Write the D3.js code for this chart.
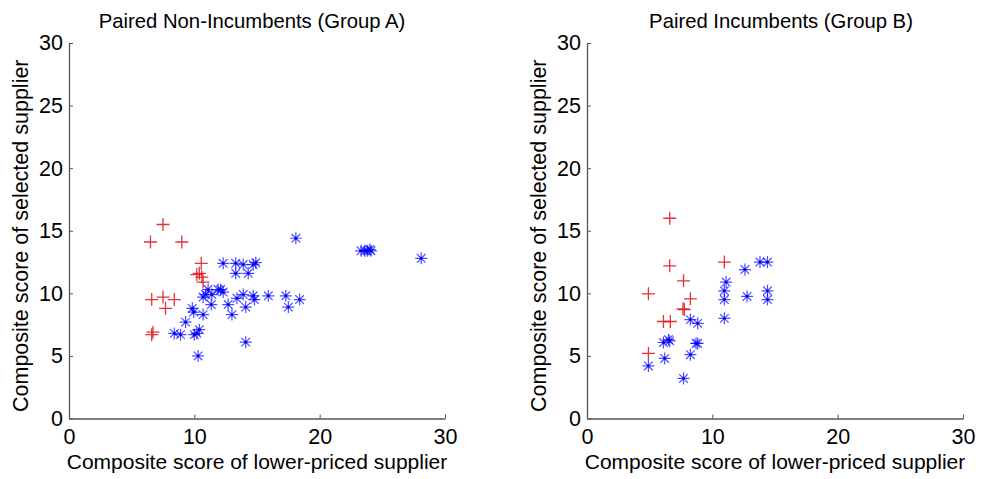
<!DOCTYPE html>
<html>
<head>
<meta charset="utf-8">
<script src="https://cdn.jsdelivr.net/npm/d3@7"></script>
<style>
  body { margin: 0; background: #fff; }
  text { font-family: "Liberation Sans", Arial, sans-serif; fill: #000; }
</style>
</head>
<body>
<div id="chart"></div>
<script>
// group A (non-incumbents): red = crosses, blue = stars
var redA_x = [6.5, 7.5, 9.0, 10.55, 10.2, 10.4, 10.6, 10.7, 6.6, 7.5, 8.4, 7.7, 6.6, 6.7];
var redA_y = [14.1, 15.5, 14.1, 12.4, 11.5, 11.6, 11.3, 10.9, 9.5, 9.7, 9.5, 8.8, 6.7, 6.9];
var blueA_x = [12.3, 13.3, 13.9, 14.7, 14.9, 13.3, 14.3, 10.7, 11.1, 11.9, 12.1, 12.3, 11.35, 12.7, 13.0,
               13.4, 13.9, 14.1, 14.7, 14.8, 9.84, 9.95, 10.7, 9.3, 8.4, 8.9, 10.0, 10.2, 10.4, 10.3,
               14.1, 15.9, 17.3, 17.5, 18.4, 18.1, 23.3, 23.6, 23.8, 24.0, 24.1, 28.1, 10.9, 11.4];
var blueA_y = [12.4, 12.4, 12.3, 12.3, 12.45, 11.6, 11.6, 9.7, 10.3, 10.3, 10.3, 10.1, 9.1, 9.1, 8.3,
               9.6, 9.9, 8.9, 9.8, 9.5, 8.8, 8.5, 8.3, 7.7, 6.8, 6.7, 6.7, 6.8, 7.1, 5.0,
               6.1, 9.8, 9.8, 8.9, 9.5, 14.4, 13.4, 13.4, 13.4, 13.5, 13.4, 12.8, 9.9, 9.9];

// group B (incumbents)
var redB_x = [6.6, 6.6, 10.96, 7.7, 4.9, 8.25, 7.66, 7.77, 6.1, 6.65, 4.9];
var redB_y = [16.0, 12.2, 12.5, 11.0, 9.96, 9.56, 8.76, 8.7, 7.75, 7.75, 5.2];
var blueB_x = [13.8, 14.4, 12.6, 11.1, 10.96, 10.96, 12.77, 14.4, 14.4, 10.96, 8.25, 8.83,
               6.1, 6.6, 6.5, 8.83, 8.7, 6.2, 8.25, 4.9, 7.7];
var blueB_y = [12.5, 12.5, 11.9, 10.9, 10.2, 9.5, 9.75, 10.2, 9.5, 8.0, 7.9, 7.6,
               6.07, 6.2, 6.3, 6.0, 6.0, 4.8, 5.1, 4.2, 3.2];

var xTicks = [0, 10, 20, 30];
var yTicks = [0, 5, 10, 15, 20, 25, 30];

var panels = [
  {title: "Paired Non-Incumbents (Group A)", left: 69, titleShift: -5, rx: redA_x, ry: redA_y, bx: blueA_x, by: blueA_y},
  {title: "Paired Incumbents (Group B)", left: 587, titleShift: 6, rx: redB_x, ry: redB_y, bx: blueB_x, by: blueB_y}
];

var W = 981, H = 479;
var plotTop = 43, plotBottom = 418.5, pw = 376;
var ph = plotBottom - plotTop;

var svg = d3.select("#chart").append("svg")
    .attr("width", W)
    .attr("height", H);

var plusPath = "M-6.5,0H6.5M0,-6.5V6.5";
var starPath = "M-6,0H6M0,-6V6M-4.3,-4.3L4.3,4.3M-4.3,4.3L4.3,-4.3";

panels.forEach(function(p) {
  var x = d3.scaleLinear().domain([0, 30]).range([0, pw]);
  var y = d3.scaleLinear().domain([0, 30]).range([ph, 0]);
  var g = svg.append("g").attr("transform", "translate(" + p.left + "," + plotTop + ")");

  // axes (ticks point inward, like matlab)
  var xAxis = d3.axisBottom(x).tickValues(xTicks).tickSizeInner(-4).tickSizeOuter(0).tickPadding(10);
  var yAxis = d3.axisLeft(y).tickValues(yTicks).tickSizeInner(-4).tickSizeOuter(0).tickPadding(6);

  var gx = g.append("g").attr("transform", "translate(0," + ph + ")").call(xAxis);
  var gy = g.append("g").call(yAxis);
  [gx, gy].forEach(function(a) {
    a.select(".domain").attr("stroke", "#555").attr("stroke-width", 1.3);
    a.selectAll(".tick line").attr("stroke", "#555");
    a.selectAll(".tick text").style("font-size", "21.5px").attr("fill", "#000");
  });
  gx.selectAll(".tick text").attr("dy", "0.71em");

  // blue stars
  g.selectAll("path.star")
    .data(d3.range(p.bx.length))
    .enter().append("path")
    .attr("class", "star")
    .attr("transform", function(i) { return "translate(" + x(p.bx[i]) + "," + y(p.by[i]) + ")"; })
    .attr("d", starPath)
    .attr("fill", "none")
    .attr("stroke", "#0000ff")
    .attr("stroke-opacity", 0.7)
    .attr("stroke-width", 1.2);
  g.selectAll("circle.dot")
    .data(d3.range(p.bx.length))
    .enter().append("circle")
    .attr("class", "dot")
    .attr("cx", function(i) { return x(p.bx[i]); })
    .attr("cy", function(i) { return y(p.by[i]); })
    .attr("r", 1.4)
    .attr("fill", "#0000ee");

  // red crosses
  g.selectAll("path.plus")
    .data(d3.range(p.rx.length))
    .enter().append("path")
    .attr("class", "plus")
    .attr("transform", function(i) { return "translate(" + x(p.rx[i]) + "," + y(p.ry[i]) + ")"; })
    .attr("d", plusPath)
    .attr("fill", "none")
    .attr("stroke", "#dd1111")
    .attr("stroke-opacity", 0.85)
    .attr("stroke-width", 1.3);

  // labels
  g.append("text")
    .attr("x", pw / 2 + p.titleShift).attr("y", -15)
    .attr("text-anchor", "middle")
    .style("font-size", "20.3px")
    .text(p.title);
  g.append("text")
    .attr("x", pw / 2).attr("y", ph + 50.5)
    .attr("text-anchor", "middle")
    .style("font-size", "21px")
    .text("Composite score of lower-priced supplier");
  g.append("text")
    .attr("transform", "translate(-41," + (ph / 2 + 5) + ")rotate(-90)")
    .attr("text-anchor", "middle")
    .style("font-size", "21.5px")
    .text("Composite score of selected supplier");
});
</script>
</body>
</html>
